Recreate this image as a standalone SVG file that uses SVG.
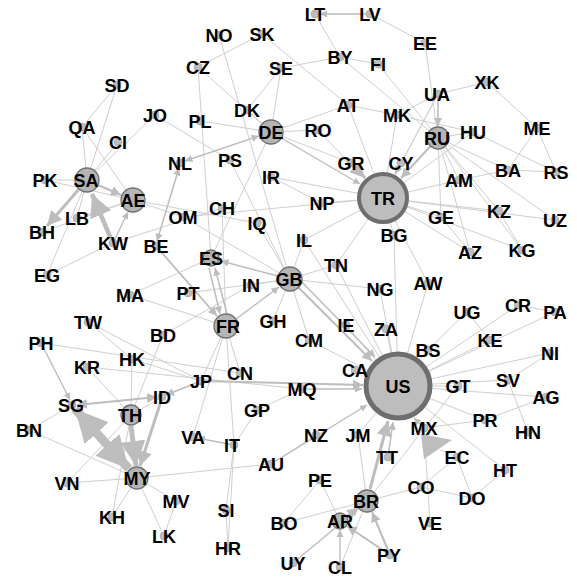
<svg xmlns="http://www.w3.org/2000/svg" width="577" height="578" viewBox="0 0 577 578">
<style>
.e{stroke:#cfcfcf;stroke-width:1;fill:none}
.a{stroke:#bdbdbd;fill:none;marker-end:url(#ah)}
.d{stroke:#bdbdbd;fill:none;marker-end:url(#ah);marker-start:url(#ah)}
.n{fill:#bdbdbd;stroke:#a0a0a0;stroke-width:0.6}
.b{fill:#b5b5b5;stroke:#707070;stroke-width:1.3}
.t{font-family:"Liberation Sans",Arial,sans-serif;font-weight:bold;font-size:18px;fill:#000;text-anchor:middle}
</style>
<defs>
<marker id="ah" viewBox="0 0 10 10" refX="10" refY="5" markerWidth="5" markerHeight="5" orient="auto-start-reverse" markerUnits="strokeWidth">
<path d="M0,0 L10,5 L0,10 z" fill="#bdbdbd"/>
</marker>
<marker id="ahb" viewBox="0 0 10 10" refX="10" refY="5" markerWidth="3.6" markerHeight="3.6" orient="auto-start-reverse" markerUnits="strokeWidth">
<path d="M0,0 L10,5 L0,10 z" fill="#bdbdbd"/>
</marker>
</defs>
<rect width="577" height="578" fill="#fff"/>
<g id="connectors">
<line class="e" x1="315" y1="14" x2="340" y2="57"/>
<line class="e" x1="370" y1="14" x2="425" y2="43"/>
<line class="e" x1="425" y1="43" x2="438" y2="138"/>
<line class="e" x1="438" y1="94" x2="487" y2="82"/>
<line class="e" x1="487" y1="82" x2="537" y2="128"/>
<line class="e" x1="537" y1="128" x2="508" y2="170"/>
<line class="e" x1="537" y1="128" x2="556" y2="172"/>
<line class="e" x1="508" y1="170" x2="556" y2="172"/>
<line class="e" x1="473" y1="132" x2="556" y2="172"/>
<line class="e" x1="438" y1="138" x2="473" y2="132"/>
<line class="e" x1="438" y1="138" x2="508" y2="170"/>
<line class="e" x1="438" y1="138" x2="459" y2="180"/>
<line class="e" x1="438" y1="138" x2="441" y2="217"/>
<line class="e" x1="438" y1="138" x2="470" y2="252"/>
<line class="e" x1="438" y1="138" x2="499" y2="211"/>
<line class="e" x1="438" y1="138" x2="522" y2="250"/>
<line class="e" x1="438" y1="138" x2="555" y2="220"/>
<line class="e" x1="378" y1="64" x2="438" y2="138"/>
<line class="e" x1="397" y1="115" x2="438" y2="94"/>
<line class="e" x1="397" y1="115" x2="473" y2="132"/>
<line class="e" x1="438" y1="94" x2="401" y2="163"/>
<line class="e" x1="438" y1="94" x2="383" y2="198"/>
<line class="e" x1="340" y1="57" x2="438" y2="138"/>
<line class="e" x1="340" y1="57" x2="378" y2="64"/>
<line class="e" x1="281" y1="68" x2="340" y2="57"/>
<line class="e" x1="262" y1="34" x2="198" y2="67"/>
<line class="e" x1="219" y1="35" x2="290" y2="279"/>
<line class="e" x1="262" y1="34" x2="348" y2="105"/>
<line class="e" x1="281" y1="68" x2="247" y2="110"/>
<line class="e" x1="281" y1="68" x2="271" y2="132"/>
<line class="e" x1="198" y1="67" x2="271" y2="132"/>
<line class="e" x1="198" y1="67" x2="211" y2="258"/>
<line class="e" x1="200" y1="121" x2="271" y2="132"/>
<line class="e" x1="247" y1="110" x2="271" y2="132"/>
<line class="e" x1="271" y1="132" x2="318" y2="130"/>
<line class="e" x1="271" y1="132" x2="348" y2="105"/>
<line class="e" x1="271" y1="132" x2="351" y2="163"/>
<line class="e" x1="348" y1="105" x2="383" y2="198"/>
<line class="e" x1="348" y1="105" x2="397" y2="115"/>
<line class="e" x1="397" y1="115" x2="383" y2="198"/>
<line class="e" x1="318" y1="130" x2="383" y2="198"/>
<line class="e" x1="271" y1="177" x2="383" y2="198"/>
<line class="e" x1="230" y1="160" x2="290" y2="279"/>
<line class="e" x1="271" y1="132" x2="211" y2="258"/>
<line class="e" x1="155" y1="115" x2="230" y2="160"/>
<line class="e" x1="117" y1="85" x2="82" y2="127"/>
<line class="e" x1="117" y1="85" x2="87" y2="180"/>
<line class="e" x1="82" y1="127" x2="87" y2="180"/>
<line class="e" x1="82" y1="127" x2="133" y2="200"/>
<line class="e" x1="118" y1="142" x2="87" y2="180"/>
<line class="e" x1="155" y1="115" x2="87" y2="180"/>
<line class="e" x1="45" y1="180" x2="87" y2="180"/>
<line class="e" x1="45" y1="180" x2="133" y2="200"/>
<line class="e" x1="77" y1="218" x2="87" y2="180"/>
<line class="e" x1="77" y1="218" x2="133" y2="200"/>
<line class="e" x1="42" y1="232" x2="133" y2="200"/>
<line class="e" x1="47" y1="275" x2="87" y2="180"/>
<line class="e" x1="47" y1="275" x2="113" y2="243"/>
<line class="e" x1="113" y1="243" x2="222" y2="208"/>
<line class="e" x1="133" y1="200" x2="183" y2="217"/>
<line class="e" x1="183" y1="217" x2="383" y2="198"/>
<line class="e" x1="183" y1="217" x2="290" y2="279"/>
<line class="e" x1="133" y1="200" x2="257" y2="223"/>
<line class="e" x1="383" y1="198" x2="459" y2="180"/>
<line class="e" x1="383" y1="198" x2="473" y2="132"/>
<line class="e" x1="383" y1="198" x2="499" y2="211"/>
<line class="e" x1="383" y1="198" x2="555" y2="220"/>
<line class="e" x1="383" y1="198" x2="441" y2="217"/>
<line class="e" x1="383" y1="198" x2="470" y2="252"/>
<line class="e" x1="383" y1="198" x2="522" y2="250"/>
<line class="e" x1="441" y1="217" x2="470" y2="252"/>
<line class="e" x1="499" y1="211" x2="522" y2="250"/>
<line class="e" x1="383" y1="198" x2="394" y2="235"/>
<line class="e" x1="383" y1="198" x2="322" y2="203"/>
<line class="e" x1="383" y1="198" x2="336" y2="265"/>
<line class="e" x1="383" y1="198" x2="304" y2="240"/>
<line class="e" x1="383" y1="198" x2="428" y2="283"/>
<line class="e" x1="428" y1="283" x2="398" y2="386"/>
<line class="e" x1="459" y1="180" x2="508" y2="170"/>
<line class="e" x1="322" y1="203" x2="271" y2="177"/>
<line class="e" x1="304" y1="240" x2="398" y2="386"/>
<line class="e" x1="336" y1="265" x2="398" y2="386"/>
<line class="e" x1="346" y1="325" x2="398" y2="386"/>
<line class="e" x1="309" y1="340" x2="398" y2="386"/>
<line class="e" x1="380" y1="289" x2="398" y2="386"/>
<line class="e" x1="386" y1="329" x2="398" y2="386"/>
<line class="e" x1="394" y1="235" x2="398" y2="386"/>
<line class="e" x1="290" y1="279" x2="380" y2="289"/>
<line class="e" x1="290" y1="279" x2="336" y2="265"/>
<line class="e" x1="290" y1="279" x2="304" y2="240"/>
<line class="e" x1="290" y1="279" x2="309" y2="340"/>
<line class="e" x1="290" y1="279" x2="273" y2="321"/>
<line class="e" x1="290" y1="279" x2="251" y2="285"/>
<line class="e" x1="188" y1="293" x2="290" y2="279"/>
<line class="e" x1="222" y1="208" x2="226" y2="326"/>
<line class="e" x1="257" y1="223" x2="290" y2="279"/>
<line class="e" x1="130" y1="295" x2="226" y2="326"/>
<line class="e" x1="130" y1="295" x2="211" y2="258"/>
<line class="e" x1="163" y1="335" x2="251" y2="285"/>
<line class="e" x1="226" y1="326" x2="234" y2="445"/>
<line class="e" x1="226" y1="326" x2="240" y2="373"/>
<line class="e" x1="226" y1="326" x2="201" y2="381"/>
<line class="e" x1="193" y1="437" x2="226" y2="326"/>
<line class="e" x1="234" y1="445" x2="226" y2="510"/>
<line class="e" x1="226" y1="510" x2="228" y2="548"/>
<line class="e" x1="234" y1="445" x2="228" y2="548"/>
<line class="e" x1="257" y1="410" x2="234" y2="445"/>
<line class="e" x1="257" y1="410" x2="302" y2="389"/>
<line class="e" x1="316" y1="435" x2="271" y2="464"/>
<line class="e" x1="271" y1="464" x2="137" y2="478"/>
<line class="e" x1="358" y1="435" x2="398" y2="386"/>
<line class="e" x1="358" y1="435" x2="367" y2="501"/>
<line class="e" x1="320" y1="480" x2="284" y2="523"/>
<line class="e" x1="320" y1="480" x2="340" y2="521"/>
<line class="e" x1="284" y1="523" x2="367" y2="501"/>
<line class="e" x1="340" y1="567" x2="367" y2="501"/>
<line class="e" x1="367" y1="501" x2="421" y2="487"/>
<line class="e" x1="421" y1="487" x2="457" y2="457"/>
<line class="e" x1="457" y1="457" x2="472" y2="498"/>
<line class="e" x1="505" y1="470" x2="472" y2="498"/>
<line class="e" x1="421" y1="487" x2="472" y2="498"/>
<line class="e" x1="398" y1="386" x2="505" y2="470"/>
<line class="e" x1="424" y1="428" x2="430" y2="523"/>
<line class="e" x1="424" y1="428" x2="485" y2="420"/>
<line class="e" x1="485" y1="420" x2="546" y2="397"/>
<line class="e" x1="546" y1="397" x2="398" y2="386"/>
<line class="e" x1="485" y1="420" x2="398" y2="386"/>
<line class="e" x1="508" y1="380" x2="528" y2="432"/>
<line class="e" x1="508" y1="380" x2="398" y2="386"/>
<line class="e" x1="550" y1="353" x2="398" y2="386"/>
<line class="e" x1="550" y1="353" x2="508" y2="380"/>
<line class="e" x1="458" y1="386" x2="398" y2="386"/>
<line class="e" x1="490" y1="340" x2="398" y2="386"/>
<line class="e" x1="467" y1="312" x2="490" y2="340"/>
<line class="e" x1="467" y1="312" x2="428" y2="350"/>
<line class="e" x1="518" y1="305" x2="398" y2="386"/>
<line class="e" x1="518" y1="305" x2="555" y2="312"/>
<line class="e" x1="555" y1="312" x2="398" y2="386"/>
<line class="e" x1="428" y1="350" x2="398" y2="386"/>
<line class="e" x1="458" y1="386" x2="367" y2="501"/>
<line class="e" x1="355" y1="370" x2="398" y2="386"/>
<line class="e" x1="88" y1="322" x2="132" y2="359"/>
<line class="e" x1="88" y1="322" x2="201" y2="381"/>
<line class="e" x1="41" y1="343" x2="240" y2="373"/>
<line class="e" x1="87" y1="367" x2="302" y2="389"/>
<line class="e" x1="87" y1="367" x2="131" y2="415"/>
<line class="e" x1="163" y1="335" x2="131" y2="415"/>
<line class="e" x1="132" y1="359" x2="131" y2="415"/>
<line class="e" x1="132" y1="359" x2="201" y2="381"/>
<line class="e" x1="131" y1="415" x2="162" y2="397"/>
<line class="e" x1="29" y1="430" x2="72" y2="405"/>
<line class="e" x1="29" y1="430" x2="137" y2="478"/>
<line class="e" x1="67" y1="483" x2="137" y2="478"/>
<line class="e" x1="67" y1="483" x2="131" y2="415"/>
<line class="e" x1="112" y1="517" x2="137" y2="478"/>
<line class="e" x1="112" y1="517" x2="131" y2="415"/>
<line class="e" x1="137" y1="478" x2="176" y2="501"/>
<line class="e" x1="176" y1="501" x2="164" y2="536"/>
<line class="e" x1="137" y1="478" x2="164" y2="536"/>
<line class="a" stroke-width="1.4" x1="370" y1="14" x2="320" y2="14"/>
<line class="a" stroke-width="1.6" x1="438" y1="94" x2="438" y2="126"/>
<line class="a" stroke-width="2" x1="438" y1="138" x2="401" y2="178"/>
<line class="a" stroke-width="1.6" x1="401" y1="163" x2="395" y2="174"/>
<line class="a" stroke-width="3" x1="351" y1="163" x2="365" y2="178"/>
<line class="a" stroke-width="1.4" x1="271" y1="132" x2="360" y2="184"/>
<line class="d" stroke-width="1.5" x1="185" y1="161" x2="259" y2="136"/>
<line class="d" stroke-width="1.5" x1="157" y1="241" x2="179" y2="168"/>
<line class="a" stroke-width="2" x1="98" y1="185" x2="121" y2="195"/>
<line class="a" stroke-width="3" x1="79" y1="189" x2="47" y2="226"/>
<line class="a" stroke-width="4.5" x1="111" y1="239" x2="92" y2="194"/>
<line class="a" stroke-width="1.4" x1="113" y1="243" x2="128" y2="212"/>
<line class="a" stroke-width="1.5" x1="278" y1="276" x2="221" y2="261"/>
<line class="a" stroke-width="1.5" x1="236" y1="319" x2="279" y2="287"/>
<line class="a" stroke-width="1.5" x1="209" y1="268" x2="220" y2="314"/>
<line class="a" stroke-width="1.5" x1="227" y1="314" x2="215" y2="268"/>
<line class="a" stroke-width="1.8" x1="156" y1="246" x2="217" y2="316"/>
<line class="a" stroke-width="2" x1="290" y1="279" x2="372" y2="361"/>
<line class="a" stroke-width="1.5" x1="296" y1="276" x2="375" y2="357"/>
<line class="a" stroke-width="2" x1="201" y1="381" x2="363" y2="385"/>
<line class="a" stroke-width="1.5" x1="302" y1="389" x2="362" y2="389"/>
<line class="a" stroke-width="1.4" x1="271" y1="464" x2="367" y2="405"/>
<line class="a" stroke-width="1.6" x1="388" y1="457" x2="393" y2="422"/>
<line class="a" stroke-width="3" x1="370" y1="489" x2="388" y2="421"/>
<line class="a" stroke-width="1.4" x1="424" y1="428" x2="414" y2="418"/>
<line class="a" stroke-width="2" x1="390" y1="555" x2="372" y2="512"/>
<line class="a" stroke-width="2" x1="390" y1="555" x2="347" y2="526"/>
<line class="a" stroke-width="2" x1="347" y1="516" x2="357" y2="508"/>
<line class="a" stroke-width="1.4" x1="340" y1="567" x2="340" y2="530"/>
<line class="a" stroke-width="1.4" x1="293" y1="563" x2="358" y2="509"/>
<line class="a" stroke-width="1.6" x1="234" y1="445" x2="197" y2="438"/>
<line class="a" stroke-width="1.4" x1="41" y1="343" x2="70" y2="400"/>
<line class="d" stroke-width="2" x1="77" y1="405" x2="157" y2="397"/>
<line stroke="#bdbdbd" fill="none" marker-start="url(#ahb)" marker-end="url(#ahb)" stroke-width="9" x1="75" y1="409" x2="129" y2="469"/>
<line class="a" stroke-width="5" x1="131" y1="426" x2="136" y2="466"/>
<line class="a" stroke-width="3" x1="161" y1="401" x2="140" y2="466"/>
<line class="a" stroke-width="1.6" x1="201" y1="381" x2="166" y2="395"/>
<line class="e" stroke-width="3" x1="457" y1="457" x2="440" y2="450"/>
<polygon points="421,434 424,459 452,440" fill="#bdbdbd"/>
</g>
<g id="nodes">
<g id="n-LT"><circle class="n" cx="315" cy="14" r="4"/><text class="t" x="315" y="20.5">LT</text></g>
<g id="n-LV"><circle class="n" cx="370" cy="14" r="4"/><text class="t" x="370" y="20.5">LV</text></g>
<g id="n-EE"><circle class="n" cx="425" cy="43" r="4"/><text class="t" x="425" y="49.5">EE</text></g>
<g id="n-NO"><circle class="n" cx="219" cy="35" r="4"/><text class="t" x="219" y="41.5">NO</text></g>
<g id="n-SK"><circle class="n" cx="262" cy="34" r="4"/><text class="t" x="262" y="40.5">SK</text></g>
<g id="n-CZ"><circle class="n" cx="198" cy="67" r="4"/><text class="t" x="198" y="73.5">CZ</text></g>
<g id="n-SE"><circle class="n" cx="281" cy="68" r="4"/><text class="t" x="281" y="74.5">SE</text></g>
<g id="n-BY"><circle class="n" cx="340" cy="57" r="4"/><text class="t" x="340" y="63.5">BY</text></g>
<g id="n-FI"><circle class="n" cx="378" cy="64" r="4"/><text class="t" x="378" y="70.5">FI</text></g>
<g id="n-UA"><circle class="n" cx="438" cy="94" r="4"/><text class="t" x="437" y="100.5">UA</text></g>
<g id="n-XK"><circle class="n" cx="487" cy="82" r="4"/><text class="t" x="487" y="88.5">XK</text></g>
<g id="n-ME"><circle class="n" cx="537" cy="128" r="4"/><text class="t" x="537" y="134.5">ME</text></g>
<g id="n-HU"><circle class="n" cx="473" cy="132" r="4"/><text class="t" x="473" y="138.5">HU</text></g>
<g id="n-MK"><circle class="n" cx="397" cy="115" r="4"/><text class="t" x="397" y="121.5">MK</text></g>
<g id="n-RU"><circle class="b" cx="438" cy="138" r="11"/><text class="t" x="437" y="144.5">RU</text></g>
<g id="n-AT"><circle class="n" cx="348" cy="105" r="4"/><text class="t" x="348" y="111.5">AT</text></g>
<g id="n-DK"><circle class="n" cx="247" cy="110" r="4"/><text class="t" x="247" y="116.5">DK</text></g>
<g id="n-DE"><circle class="b" cx="271" cy="132" r="12"/><text class="t" x="271" y="138.5">DE</text></g>
<g id="n-RO"><circle class="n" cx="318" cy="130" r="4"/><text class="t" x="318" y="136.5">RO</text></g>
<g id="n-GR"><circle class="n" cx="351" cy="163" r="4"/><text class="t" x="351" y="169.5">GR</text></g>
<g id="n-PL"><circle class="n" cx="200" cy="121" r="4"/><text class="t" x="200" y="127.5">PL</text></g>
<g id="n-PS"><circle class="n" cx="230" cy="160" r="4"/><text class="t" x="230" y="166.5">PS</text></g>
<g id="n-IR"><circle class="n" cx="271" cy="177" r="4"/><text class="t" x="271" y="183.5">IR</text></g>
<g id="n-CY"><circle class="n" cx="401" cy="163" r="4"/><text class="t" x="401" y="169.5">CY</text></g>
<g id="n-TR"><circle cx="383" cy="198" r="24" fill="#bdbdbd" stroke="#6e6e6e" stroke-width="4"/><text class="t" x="383" y="204.5">TR</text></g>
<g id="n-AM"><circle class="n" cx="459" cy="180" r="4"/><text class="t" x="459" y="186.5">AM</text></g>
<g id="n-NP"><circle class="n" cx="322" cy="203" r="4"/><text class="t" x="322" y="209.5">NP</text></g>
<g id="n-GE"><circle class="n" cx="441" cy="217" r="4"/><text class="t" x="441" y="223.5">GE</text></g>
<g id="n-BG"><circle class="n" cx="394" cy="235" r="4"/><text class="t" x="394" y="241.5">BG</text></g>
<g id="n-KZ"><circle class="n" cx="499" cy="211" r="4"/><text class="t" x="499" y="217.5">KZ</text></g>
<g id="n-UZ"><circle class="n" cx="555" cy="220" r="4"/><text class="t" x="555" y="226.5">UZ</text></g>
<g id="n-AZ"><circle class="n" cx="470" cy="252" r="4"/><text class="t" x="470" y="258.5">AZ</text></g>
<g id="n-KG"><circle class="n" cx="522" cy="250" r="4"/><text class="t" x="522" y="256.5">KG</text></g>
<g id="n-BA"><circle class="n" cx="508" cy="170" r="4"/><text class="t" x="508" y="176.5">BA</text></g>
<g id="n-RS"><circle class="n" cx="556" cy="172" r="4"/><text class="t" x="556" y="178.5">RS</text></g>
<g id="n-AW"><circle class="n" cx="428" cy="283" r="4"/><text class="t" x="428" y="289.5">AW</text></g>
<g id="n-NG"><circle class="n" cx="380" cy="289" r="4"/><text class="t" x="380" y="295.5">NG</text></g>
<g id="n-ZA"><circle class="n" cx="386" cy="329" r="4"/><text class="t" x="386" y="335.5">ZA</text></g>
<g id="n-UG"><circle class="n" cx="467" cy="312" r="4"/><text class="t" x="467" y="318.5">UG</text></g>
<g id="n-CR"><circle class="n" cx="518" cy="305" r="4"/><text class="t" x="518" y="311.5">CR</text></g>
<g id="n-PA"><circle class="n" cx="555" cy="312" r="4"/><text class="t" x="555" y="318.5">PA</text></g>
<g id="n-KE"><circle class="n" cx="490" cy="340" r="4"/><text class="t" x="490" y="346.5">KE</text></g>
<g id="n-BS"><circle class="n" cx="428" cy="350" r="4"/><text class="t" x="428" y="356.5">BS</text></g>
<g id="n-NI"><circle class="n" cx="550" cy="353" r="4"/><text class="t" x="550" y="359.5">NI</text></g>
<g id="n-SV"><circle class="n" cx="508" cy="380" r="4"/><text class="t" x="508" y="386.5">SV</text></g>
<g id="n-GT"><circle class="n" cx="458" cy="386" r="4"/><text class="t" x="458" y="392.5">GT</text></g>
<g id="n-AG"><circle class="n" cx="546" cy="397" r="4"/><text class="t" x="546" y="403.5">AG</text></g>
<g id="n-PR"><circle class="n" cx="485" cy="420" r="4"/><text class="t" x="485" y="426.5">PR</text></g>
<g id="n-HN"><circle class="n" cx="528" cy="432" r="4"/><text class="t" x="528" y="438.5">HN</text></g>
<g id="n-US"><circle cx="398" cy="386" r="32" fill="#bdbdbd" stroke="#6e6e6e" stroke-width="5"/><text class="t" x="398" y="392.5">US</text></g>
<g id="n-MX"><circle class="n" cx="424" cy="428" r="4"/><text class="t" x="424" y="434.5">MX</text></g>
<g id="n-EC"><circle class="n" cx="457" cy="457" r="4"/><text class="t" x="457" y="463.5">EC</text></g>
<g id="n-HT"><circle class="n" cx="505" cy="470" r="4"/><text class="t" x="505" y="476.5">HT</text></g>
<g id="n-CO"><circle class="n" cx="421" cy="487" r="4"/><text class="t" x="421" y="493.5">CO</text></g>
<g id="n-DO"><circle class="n" cx="472" cy="498" r="4"/><text class="t" x="472" y="504.5">DO</text></g>
<g id="n-VE"><circle class="n" cx="430" cy="523" r="4"/><text class="t" x="430" y="529.5">VE</text></g>
<g id="n-PY"><circle class="n" cx="390" cy="555" r="4"/><text class="t" x="389" y="561.5">PY</text></g>
<g id="n-TT"><circle class="n" cx="388" cy="457" r="4"/><text class="t" x="387" y="463.5">TT</text></g>
<g id="n-JM"><circle class="n" cx="358" cy="435" r="4"/><text class="t" x="358" y="441.5">JM</text></g>
<g id="n-CA"><circle class="n" cx="355" cy="370" r="4"/><text class="t" x="355" y="376.5">CA</text></g>
<g id="n-IE"><circle class="n" cx="346" cy="325" r="4"/><text class="t" x="346" y="331.5">IE</text></g>
<g id="n-NZ"><circle class="n" cx="316" cy="435" r="4"/><text class="t" x="316" y="441.5">NZ</text></g>
<g id="n-PE"><circle class="n" cx="320" cy="480" r="4"/><text class="t" x="320" y="486.5">PE</text></g>
<g id="n-BR"><circle class="b" cx="367" cy="501" r="11"/><text class="t" x="366" y="507.5">BR</text></g>
<g id="n-AR"><circle class="b" cx="340" cy="521" r="8"/><text class="t" x="340" y="527.5">AR</text></g>
<g id="n-BO"><circle class="n" cx="284" cy="523" r="4"/><text class="t" x="284" y="529.5">BO</text></g>
<g id="n-UY"><circle class="n" cx="293" cy="563" r="4"/><text class="t" x="293" y="569.5">UY</text></g>
<g id="n-CL"><circle class="n" cx="340" cy="567" r="4"/><text class="t" x="340" y="573.5">CL</text></g>
<g id="n-MQ"><circle class="n" cx="302" cy="389" r="4"/><text class="t" x="302" y="395.5">MQ</text></g>
<g id="n-GP"><circle class="n" cx="257" cy="410" r="4"/><text class="t" x="257" y="416.5">GP</text></g>
<g id="n-IT"><circle class="n" cx="234" cy="445" r="4"/><text class="t" x="232" y="451.5">IT</text></g>
<g id="n-VA"><circle class="n" cx="193" cy="437" r="4"/><text class="t" x="193" y="443.5">VA</text></g>
<g id="n-AU"><circle class="n" cx="271" cy="464" r="4"/><text class="t" x="271" y="470.5">AU</text></g>
<g id="n-SI"><circle class="n" cx="226" cy="510" r="4"/><text class="t" x="226" y="516.5">SI</text></g>
<g id="n-HR"><circle class="n" cx="228" cy="548" r="4"/><text class="t" x="228" y="554.5">HR</text></g>
<g id="n-CN"><circle class="n" cx="240" cy="373" r="4"/><text class="t" x="240" y="379.5">CN</text></g>
<g id="n-JP"><circle class="n" cx="201" cy="381" r="4"/><text class="t" x="201" y="387.5">JP</text></g>
<g id="n-CM"><circle class="n" cx="309" cy="340" r="4"/><text class="t" x="309" y="346.5">CM</text></g>
<g id="n-GH"><circle class="n" cx="273" cy="321" r="4"/><text class="t" x="273" y="327.5">GH</text></g>
<g id="n-IN"><circle class="n" cx="251" cy="285" r="4"/><text class="t" x="251" y="291.5">IN</text></g>
<g id="n-GB"><circle class="b" cx="290" cy="279" r="12"/><text class="t" x="289" y="285.5">GB</text></g>
<g id="n-ES"><circle class="b" cx="211" cy="258" r="8"/><text class="t" x="211" y="264.5">ES</text></g>
<g id="n-FR"><circle class="b" cx="226" cy="326" r="12"/><text class="t" x="228" y="332.5">FR</text></g>
<g id="n-IL"><circle class="n" cx="304" cy="240" r="4"/><text class="t" x="304" y="246.5">IL</text></g>
<g id="n-TN"><circle class="n" cx="336" cy="265" r="4"/><text class="t" x="336" y="271.5">TN</text></g>
<g id="n-IQ"><circle class="n" cx="257" cy="223" r="4"/><text class="t" x="257" y="229.5">IQ</text></g>
<g id="n-CH"><circle class="n" cx="222" cy="208" r="4"/><text class="t" x="222" y="214.5">CH</text></g>
<g id="n-OM"><circle class="n" cx="183" cy="217" r="4"/><text class="t" x="183" y="223.5">OM</text></g>
<g id="n-BE"><circle class="n" cx="156" cy="246" r="4"/><text class="t" x="156" y="252.5">BE</text></g>
<g id="n-KW"><circle class="n" cx="113" cy="243" r="4"/><text class="t" x="113" y="249.5">KW</text></g>
<g id="n-LB"><circle class="n" cx="77" cy="218" r="4"/><text class="t" x="77" y="224.5">LB</text></g>
<g id="n-BH"><circle class="n" cx="42" cy="232" r="4"/><text class="t" x="42" y="238.5">BH</text></g>
<g id="n-EG"><circle class="n" cx="47" cy="275" r="4"/><text class="t" x="47" y="281.5">EG</text></g>
<g id="n-MA"><circle class="n" cx="130" cy="295" r="4"/><text class="t" x="130" y="301.5">MA</text></g>
<g id="n-PT"><circle class="n" cx="188" cy="293" r="4"/><text class="t" x="188" y="299.5">PT</text></g>
<g id="n-TW"><circle class="n" cx="88" cy="322" r="4"/><text class="t" x="88" y="328.5">TW</text></g>
<g id="n-BD"><circle class="n" cx="163" cy="335" r="4"/><text class="t" x="163" y="341.5">BD</text></g>
<g id="n-PH"><circle class="n" cx="41" cy="343" r="4"/><text class="t" x="41" y="349.5">PH</text></g>
<g id="n-HK"><circle class="n" cx="132" cy="359" r="4"/><text class="t" x="132" y="365.5">HK</text></g>
<g id="n-KR"><circle class="n" cx="87" cy="367" r="4"/><text class="t" x="87" y="373.5">KR</text></g>
<g id="n-ID"><circle class="n" cx="162" cy="397" r="4"/><text class="t" x="162" y="403.5">ID</text></g>
<g id="n-SG"><circle class="n" cx="72" cy="405" r="4"/><text class="t" x="71" y="411.5">SG</text></g>
<g id="n-TH"><circle class="b" cx="131" cy="415" r="10"/><text class="t" x="130" y="421.5">TH</text></g>
<g id="n-BN"><circle class="n" cx="29" cy="430" r="4"/><text class="t" x="29" y="436.5">BN</text></g>
<g id="n-VN"><circle class="n" cx="67" cy="483" r="4"/><text class="t" x="67" y="489.5">VN</text></g>
<g id="n-MY"><circle class="b" cx="137" cy="478" r="11"/><text class="t" x="137" y="484.5">MY</text></g>
<g id="n-MV"><circle class="n" cx="176" cy="501" r="4"/><text class="t" x="176" y="507.5">MV</text></g>
<g id="n-KH"><circle class="n" cx="112" cy="517" r="4"/><text class="t" x="112" y="523.5">KH</text></g>
<g id="n-LK"><circle class="n" cx="164" cy="536" r="4"/><text class="t" x="164" y="542.5">LK</text></g>
<g id="n-SD"><circle class="n" cx="117" cy="85" r="4"/><text class="t" x="117" y="91.5">SD</text></g>
<g id="n-QA"><circle class="n" cx="82" cy="127" r="4"/><text class="t" x="82" y="133.5">QA</text></g>
<g id="n-CI"><circle class="n" cx="118" cy="142" r="4"/><text class="t" x="118" y="148.5">CI</text></g>
<g id="n-JO"><circle class="n" cx="155" cy="115" r="4"/><text class="t" x="155" y="121.5">JO</text></g>
<g id="n-NL"><circle class="n" cx="180" cy="163" r="4"/><text class="t" x="180" y="169.5">NL</text></g>
<g id="n-PK"><circle class="n" cx="45" cy="180" r="4"/><text class="t" x="45" y="186.5">PK</text></g>
<g id="n-SA"><circle class="b" cx="87" cy="180" r="12"/><text class="t" x="86" y="186.5">SA</text></g>
<g id="n-AE"><circle class="b" cx="133" cy="200" r="12"/><text class="t" x="133" y="206.5">AE</text></g>
</g>
</svg>
